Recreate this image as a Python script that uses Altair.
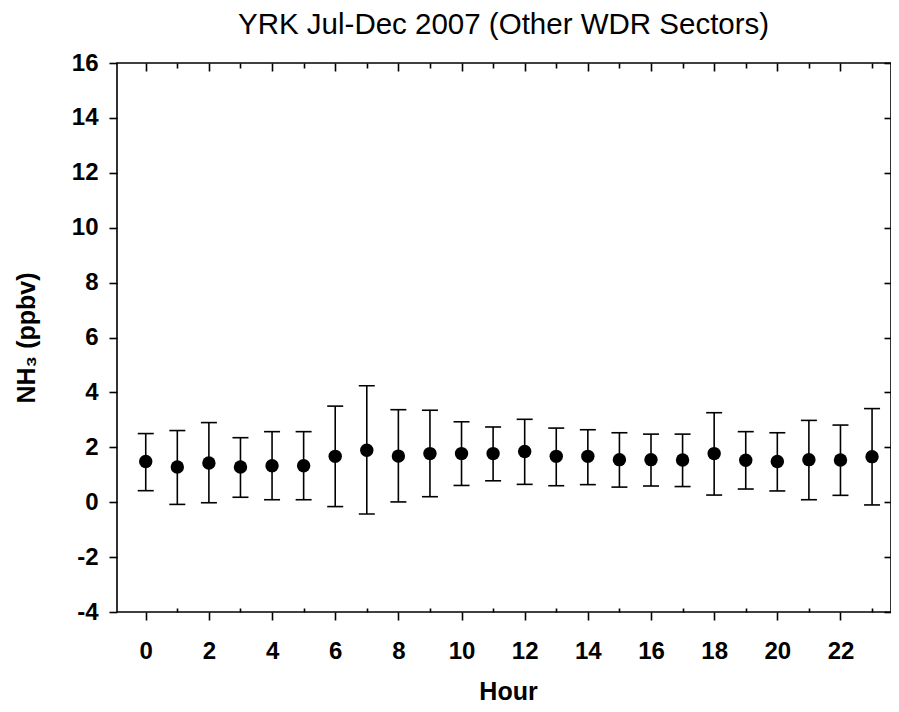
import altair as alt
import pandas as pd

# ---- data ----
hours = list(range(24))
mean = [1.48, 1.28, 1.43, 1.28, 1.33, 1.33, 1.67, 1.89, 1.68, 1.77, 1.77, 1.77,
        1.85, 1.67, 1.67, 1.55, 1.55, 1.54, 1.77, 1.53, 1.48, 1.55, 1.54, 1.66]
upper = [2.50, 2.61, 2.90, 2.35, 2.57, 2.57, 3.50, 4.24, 3.37, 3.35, 2.93, 2.74,
         3.02, 2.70, 2.64, 2.53, 2.48, 2.48, 3.26, 2.57, 2.53, 2.98, 2.81, 3.41]
lower = [0.42, -0.08, -0.02, 0.18, 0.09, 0.09, -0.16, -0.43, 0.01, 0.20, 0.61, 0.78,
         0.65, 0.60, 0.64, 0.55, 0.59, 0.57, 0.26, 0.48, 0.41, 0.09, 0.25, -0.10]

even_hours = list(range(0, 24, 2))
odd_hours = list(range(1, 24, 2))
y_ticks = list(range(-4, 17, 2))

title_text = "YRK Jul-Dec 2007 (Other WDR Sectors)"
x_title = "Hour"
y_title = "NH\u2083 (ppbv)"

df = pd.DataFrame({"hour": hours, "mean": mean, "upper": upper, "lower": lower})

FONT = "Liberation Sans"
W, H = 774, 549
xs = alt.Scale(domain=[-0.91, 23.6], nice=False, zero=False)
ys = alt.Scale(domain=[-4, 16], nice=False, zero=False)

LW = 1.6
HYPHEN = "datum.value < 0 ? '-' + abs(datum.value) : '' + datum.value"

base = alt.Chart(df)

# error bars with the labelled bottom/left axes
bars = base.mark_rule(color="black", strokeWidth=LW).encode(
    x=alt.X("hour:Q", scale=xs, axis=alt.Axis(
        orient="bottom", values=even_hours, tickSize=8, tickWidth=LW, tickColor="black",
        domain=False, grid=False, labelFont=FONT, labelFontSize=24, labelFontWeight="bold",
        labelColor="black", labelPadding=38, labelBaseline="alphabetic", labelFlush=False,
        labelOverlap=False, title=x_title, titleFont=FONT, titleFontSize=25,
        titleFontWeight="bold", titleColor="black", titleX=391, titleY=87,
        titleBaseline="alphabetic", titleAlign="center")),
    y=alt.Y("lower:Q", scale=ys, axis=alt.Axis(
        orient="left", values=y_ticks, tickSize=8, tickWidth=LW, tickColor="black",
        domain=False, grid=False, labelFont=FONT, labelFontSize=24, labelFontWeight="bold",
        labelColor="black", labelPadding=11, labelFlush=False, labelOverlap=False,
        labelExpr=HYPHEN,
        title=y_title, titleFont=FONT, titleFontSize=25, titleFontWeight="bold",
        titleColor="black", titleAngle=270, titleX=-83, titleY=H / 2,
        titleBaseline="alphabetic", titleAlign="center")),
    y2="upper:Q",
)

cap_hi = base.mark_tick(color="black", orient="horizontal", size=16, thickness=LW, opacity=1).encode(
    x=alt.X("hour:Q", scale=xs, axis=None),
    y=alt.Y("upper:Q", scale=ys, axis=None),
)
cap_lo = base.mark_tick(color="black", orient="horizontal", size=16, thickness=LW, opacity=1).encode(
    x=alt.X("hour:Q", scale=xs, axis=None),
    y=alt.Y("lower:Q", scale=ys, axis=None),
)
points = base.mark_circle(color="black", size=180, opacity=1).encode(
    x=alt.X("hour:Q", scale=xs, axis=None),
    y=alt.Y("mean:Q", scale=ys, axis=None),
)

def tick_axis(orient, values, size, offset):
    return alt.Axis(orient=orient, values=values, tickSize=size, offset=offset,
                    tickWidth=LW, tickColor="black", domain=False, grid=False,
                    labels=False, title=None)

# inward ticks on top (even), right (even)
ax1 = base.mark_point(opacity=0).encode(
    x=alt.X("hour:Q", scale=xs, axis=tick_axis("top", even_hours, 8, -8)),
    y=alt.Y("mean:Q", scale=ys, axis=tick_axis("right", y_ticks, 7, -7)),
)
# inward ticks on top (odd)
ax2 = base.mark_point(opacity=0).encode(
    x=alt.X("hour:Q", scale=xs, axis=tick_axis("top", odd_hours, 5, -5)),
    y=alt.Y("mean:Q", scale=ys, axis=None),
)
# inward ticks on bottom (odd)
ax3 = base.mark_point(opacity=0).encode(
    x=alt.X("hour:Q", scale=xs, axis=tick_axis("bottom", odd_hours, 4, -4)),
    y=alt.Y("mean:Q", scale=ys, axis=None),
)

chart = alt.layer(bars, cap_hi, cap_lo, points, ax1, ax2, ax3).resolve_axis(
    x="independent", y="independent"
).properties(
    width=W, height=H,
    title=alt.TitleParams(title_text, font=FONT, fontSize=29.5, fontWeight="normal",
                          color="black", anchor="start", frame="group",
                          baseline="alphabetic", offset=-12, dx=121),
    padding={"left": 109, "top": 55, "right": 0, "bottom": 92},
    autosize=alt.AutoSizeParams(type="none"),
    background="white",
).configure_view(stroke="black", strokeWidth=LW)

chart.save("out.html", embed_options={"renderer": "svg", "actions": False})
